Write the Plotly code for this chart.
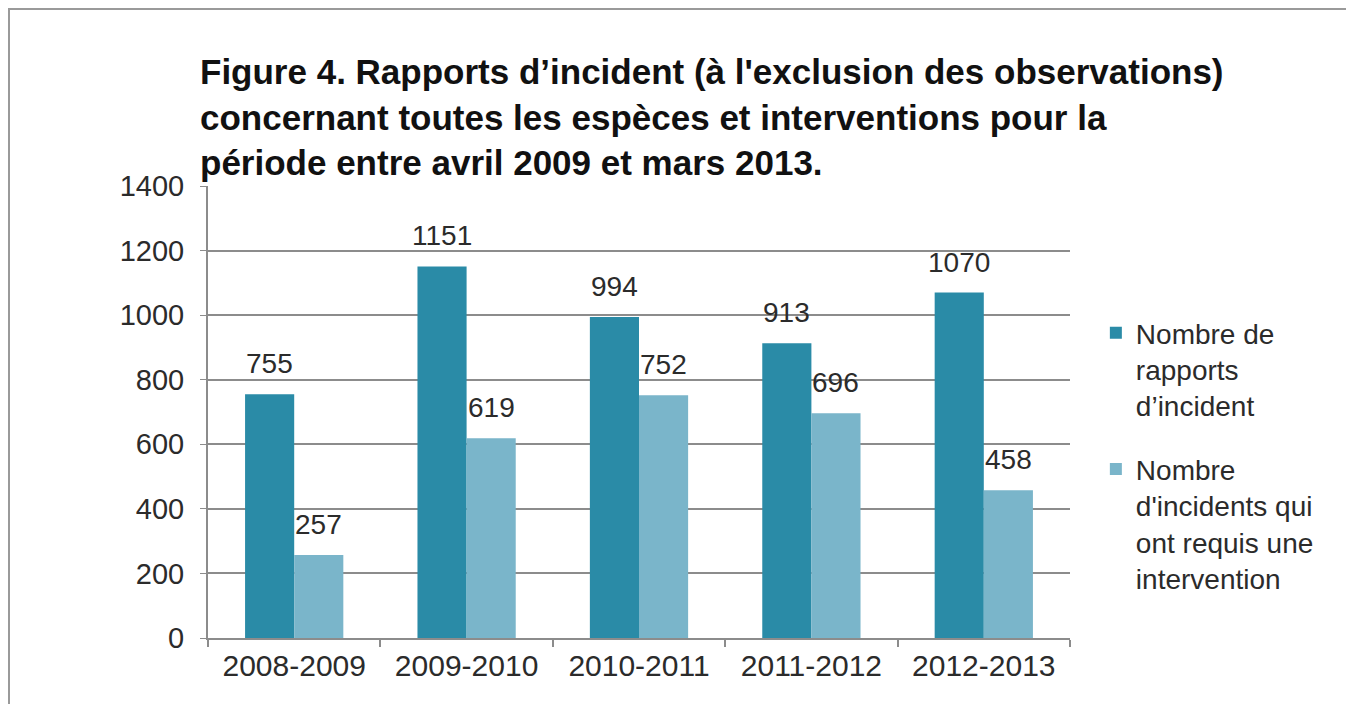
import plotly.graph_objects as go

categories = ["2008-2009", "2009-2010", "2010-2011", "2011-2012", "2012-2013"]
rapports = [755, 1151, 994, 913, 1070]
interventions = [257, 619, 752, 696, 458]
series_names = ["Nombre de<br>rapports<br>d’incident",
                "Nombre<br>d'incidents qui<br>ont requis une<br>intervention"]
y_ticks = [0, 200, 400, 600, 800, 1000, 1200, 1400]

# page body has an 8px margin; positions below are compensated for it
OFF = 8
W, H = 1354, 704
L, R = 208 - OFF, 1354 - (1070 - OFF)
T, B = 186 - OFF, 704 - (638 - OFF)
PW, PH = W - L - R, H - T - B
BARGAP = 0.43
BAR_PX = PW / len(categories) * (1 - BARGAP) / 2

FONT = "Liberation Sans, Arial, sans-serif"
TXT = "#2B2B2B"

fig = go.Figure()
fig.add_trace(go.Bar(
    x=categories, y=rapports, name=series_names[0], legendgroup="g1",
    marker=dict(color="#2A8BA7", line=dict(width=0)),
))
fig.add_trace(go.Bar(
    x=categories, y=interventions, name=series_names[1], legendgroup="g2",
    marker=dict(color="#7AB5CA", line=dict(width=0)),
))

annotations = []
for series, sign in ((rapports, -1), (interventions, 1)):
    for c, v in zip(categories, series):
        annotations.append(dict(
            x=c, y=v, xref="x", yref="y", text=str(v), showarrow=False,
            xanchor="center", yanchor="bottom",
            xshift=sign * BAR_PX / 2, yshift=13,
            font=dict(family=FONT, size=28, color=TXT),
        ))

fig.update_layout(
    width=W, height=H,
    margin=dict(l=L, r=R, t=T, b=B, autoexpand=False),
    paper_bgcolor="white", plot_bgcolor="white",
    barmode="group", bargap=BARGAP, bargroupgap=0,
    font=dict(family=FONT, size=28, color=TXT),
    title=dict(
        text="<b>Figure 4. Rapports d’incident (à l'exclusion des observations)<br>"
             "concernant toutes les espèces et interventions pour la<br>"
             "période entre avril 2009 et mars 2013.</b>",
        xref="container", x=(200 - OFF) / W, xanchor="left",
        yref="container", y=1 - (84 - OFF) / H, yanchor="top",
        font=dict(family=FONT, size=35, color="#111111"),
    ),
    showlegend=True,
    legend=dict(
        x=1.03, xanchor="left",
        y=(PH - ((308 - OFF) - T)) / PH, yanchor="top",
        valign="top",
        font=dict(family=FONT, size=28, color=TXT),
        tracegroupgap=24, itemsizing="constant", bgcolor="rgba(0,0,0,0)",
        traceorder="grouped",
    ),
    annotations=annotations,
    xaxis=dict(
        showline=True, linecolor="#8C8C8C", linewidth=2,
        ticks="outside", ticklen=7, tickcolor="#8C8C8C", tickwidth=1.5,
        tickson="boundaries", showgrid=False,
        tickfont=dict(family=FONT, size=30, color=TXT),
        automargin=False,
    ),
    yaxis=dict(
        range=[0, 1400], tickvals=y_ticks,
        showline=True, linecolor="#8C8C8C", linewidth=2,
        ticks="outside", ticklen=6, tickcolor="#8C8C8C",
        showgrid=True, gridcolor="#8C8C8C", gridwidth=2,
        zeroline=False, tickfont=dict(family=FONT, size=29, color=TXT),
        ticklabelstandoff=10, automargin=False,
    ),
    shapes=[dict(
        type="rect", xref="paper", yref="paper",
        x0=(1 - L) / PW, x1=(1349 - OFF - L) / PW,
        y0=-(B + 40) / PH, y1=(PH + T - 1) / PH,
        line=dict(color="#9A9A9A", width=2), fillcolor="rgba(0,0,0,0)",
        layer="below",
    )],
)

fig.write_html("out.html")
